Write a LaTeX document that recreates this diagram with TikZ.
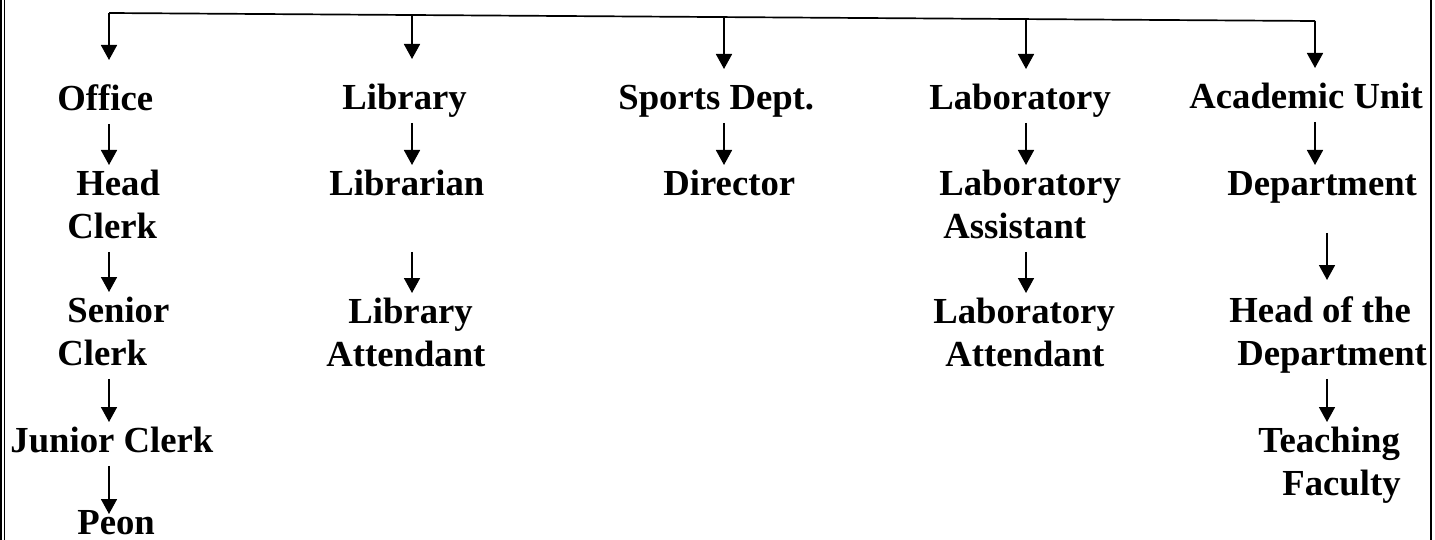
\documentclass[tikz,border=0pt]{standalone}
\usepackage{fontspec}
\setmainfont{Liberation Serif}
\usetikzlibrary{arrows.meta}

\tikzset{
  lbl/.style={font=\bfseries\fontsize{18.35pt}{21.5pt}\selectfont, align=left, inner sep=0pt, anchor=north west},
  arr/.style={-{Triangle[length=7.5pt,width=8pt]}, line width=0.85pt},
}

\begin{document}
\begin{tikzpicture}[x=0.5pt,y=-0.5pt]
    \useasboundingbox (0,0) rectangle (1435,540);
    % frame
    \draw[line width=0.6pt] (1,0) -- (1,540);
    \draw[line width=0.6pt] (4.5,0) -- (4.5,540);
    \draw[line width=0.6pt] (1431,0) -- (1431,540);

    % top bar
    \coordinate (t1) at (109,13);
    \coordinate (t2) at (412,15);
    \coordinate (t3) at (724,17);
    \coordinate (t4) at (1026,19);
    \coordinate (t5) at (1315,21);
    \coordinate (t6) at (1327,21);
    \draw[line width=0.85pt] (t1) -- (t5);

    % office
    \node[lbl] (office) at (57,80) {\strut Office};
    \node[lbl] (headclerk) at (67,165) {\hspace*{4.5pt}\strut Head\\\strut Clerk};
    \node[lbl] (seniorclerk) at (57,292) {\hspace*{5pt}\strut Senior\\\strut Clerk};
    \node[lbl] (juniorclerk) at (10,422) {\strut Junior Clerk};
    \node[lbl] (peon) at (77,504) {\strut Peon};

    % library
    \node[lbl] (library) at (342,79) {\strut Library};
    \node[lbl] (librarian) at (329,165) {\strut Librarian\\\strut};
    \node[lbl] (libattendant) at (326,293) {\hspace*{11pt}\strut Library\\\strut Attendant};

    % sports
    \node[lbl] (sports) at (618,79) {\strut Sports Dept.};
    \node[lbl] (director) at (663,165) {\strut Director};

    % laboratory
    \node[lbl] (laboratory) at (929,79) {\strut Laboratory};
    \node[lbl] (labassistant) at (939,165) {\strut Laboratory\\\hspace*{2pt}\strut Assistant};
    \node[lbl] (labattendant) at (933,293) {\strut Laboratory\\\hspace*{6pt}\strut Attendant};

    % academic
    \node[lbl] (academic) at (1189,78) {\strut Academic Unit};
    \node[lbl] (department) at (1227,165) {\strut Department};
    \node[lbl] (hod) at (1229,292) {\strut Head of the\\\hspace*{4pt}\strut Department};
    \node[lbl] (teaching) at (1258,422) {\strut Teaching\\\hspace*{12pt}\strut Faculty};

    % arrows from the bar
    \draw[arr, shorten >=10pt] (t1) -- (t1 |- office.north);
    \draw[arr, shorten >=10pt] (t2) -- (t2 |- library.north);
    \draw[arr, shorten >=5pt] (t3) -- (t3 |- sports.north);
    \draw[arr, shorten >=5pt] (t4) -- (t4 |- laboratory.north);
    \draw[arr, shorten >=5pt] (t5) -- (t5 |- academic.north);

    % arrows down the columns
    \draw[arr] (office.south -| t1) -- (headclerk.north -| t1);
    \draw[arr] (headclerk.south -| t1) -- (seniorclerk.north -| t1);
    \draw[arr] (seniorclerk.south -| t1) -- (juniorclerk.north -| t1);
    \draw[arr, shorten >=-5pt] (juniorclerk.south -| t1) -- (peon.north -| t1);

    \draw[arr] (library.south -| t2) -- (librarian.north -| t2);
    \draw[arr] (librarian.south -| t2) -- (libattendant.north -| t2);

    \draw[arr] (sports.south -| t3) -- (director.north -| t3);

    \draw[arr] (laboratory.south -| t4) -- (labassistant.north -| t4);
    \draw[arr] (labassistant.south -| t4) -- (labattendant.north -| t4);

    \draw[arr] (academic.south -| t5) -- (department.north -| t5);
    \draw[arr, shorten <=12pt, shorten >=6pt] (department.south -| t6) -- (hod.north -| t6);
    \draw[arr] (hod.south -| t6) -- (teaching.north -| t6);
\end{tikzpicture}
\end{document}
